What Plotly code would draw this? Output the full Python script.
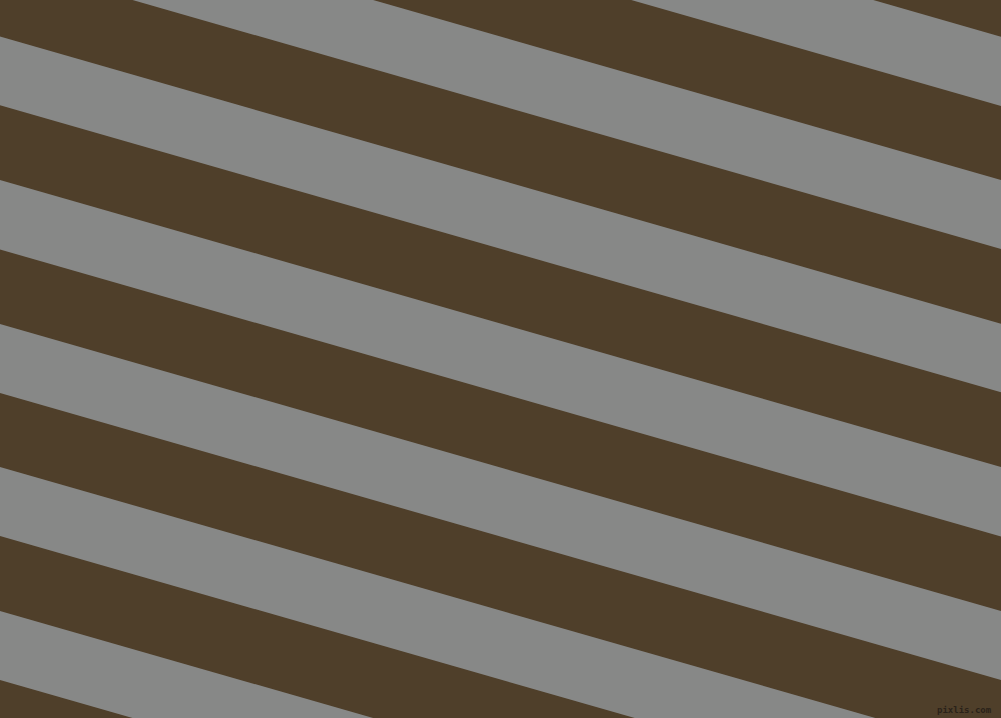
import math
import plotly.graph_objects as go

# Canvas size (pixels, used as data units)
WIDTH = 1001
HEIGHT = 718

# Stripe angle (descending to the right)
angle_deg = 16

# Gray band edges where they cross the left edge (x = 0)
gray_top = [-394.0, -250.4, -107.0, 36.6, 180.0, 324.0, 467.0, 611.0]
gray_bottom = [-325.0, -181.0, -38.0, 105.3, 249.5, 393.0, 536.0, 680.0]

# Brown band edges at the left edge
brown_top = [-469.0, -325.0, -181.0, -38.0, 105.3, 249.5, 393.0, 536.0, 680.0]
brown_bottom = [-394.0, -250.4, -107.0, 36.6, 180.0, 324.0, 467.0, 611.0, 755.0]

GRAY = "#878887"
BROWN = "#4f3f2a"

slope = math.tan(math.radians(angle_deg))
rise = slope * WIDTH

fig = go.Figure()


def add_band(top, bottom, color):
    fig.add_trace(go.Scatter(
        x=[0, WIDTH, WIDTH, 0, 0],
        y=[top, top + rise, bottom + rise, bottom, top],
        mode="lines",
        fill="toself",
        fillcolor=color,
        line=dict(width=0, color=color),
        hoverinfo="skip",
        showlegend=False,
    ))


for t, b in zip(brown_top, brown_bottom):
    add_band(t, b, BROWN)
for t, b in zip(gray_top, gray_bottom):
    add_band(t, b, GRAY)

fig.add_annotation(
    x=993, y=716, xref="x", yref="y",
    xanchor="right", yanchor="bottom",
    text="<b>pixlis.com</b>", showarrow=False,
    borderpad=0,
    font=dict(family="DejaVu Sans Mono", size=9, color="#2a2219"),
)

fig.update_layout(
    width=WIDTH, height=HEIGHT,
    margin=dict(l=0, r=0, t=0, b=0),
    paper_bgcolor=BROWN, plot_bgcolor=BROWN,
    xaxis=dict(range=[0, WIDTH], visible=False, fixedrange=True),
    yaxis=dict(range=[HEIGHT, 0], visible=False, fixedrange=True),
    showlegend=False,
)

fig.write_html(
    "out.html",
    config={"displayModeBar": False},
    post_script="document.body.style.margin='0';document.body.style.overflow='hidden';",
)
